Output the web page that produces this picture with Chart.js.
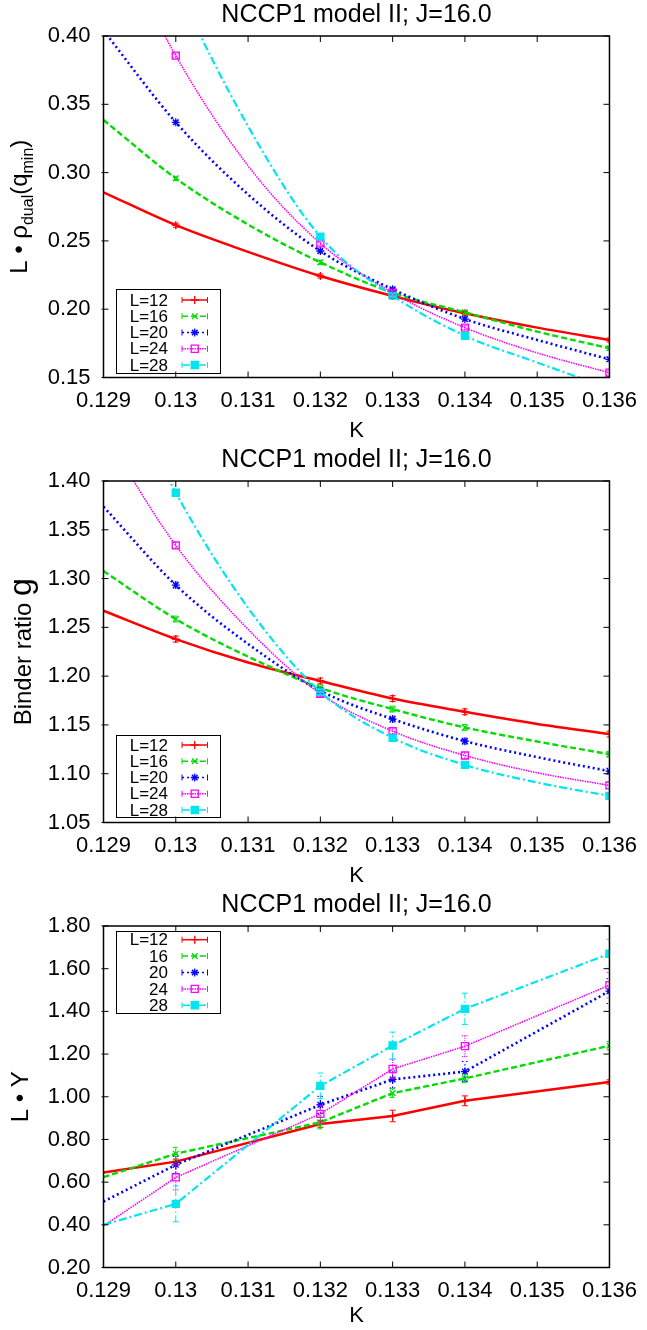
<!DOCTYPE html>
<html>
<head>
<meta charset="utf-8">
<script src="https://cdn.jsdelivr.net/npm/chart.js@4.4.0/dist/chart.umd.min.js"></script>
<style>
  html, body { margin: 0; padding: 0; background: #fff; overflow: hidden; }
  canvas { display: block; }
</style>
</head>
<body>
<canvas id="rhoChart" width="647" height="445"></canvas>
<canvas id="binderChart" width="647" height="445"></canvas>
<canvas id="yChart" width="647" height="440"></canvas>
<script>
// ---- data ----
const kFine = [0.129, 0.130, 0.131, 0.132, 0.133, 0.134, 0.135, 0.136];   // fitted curves (panels 1, 2)
const kMeasured = [0.130, 0.132, 0.133, 0.134, 0.136];                     // simulated points
const kY = [0.129, 0.130, 0.132, 0.133, 0.134, 0.136];                     // panel 3
const kTicks = [0.129, 0.130, 0.131, 0.132, 0.133, 0.134, 0.135, 0.136];
const rhoTicks = [0.15, 0.20, 0.25, 0.30, 0.35, 0.40];
const binderTicks = [1.05, 1.10, 1.15, 1.20, 1.25, 1.30, 1.35, 1.40];
const yTicks = [0.20, 0.40, 0.60, 0.80, 1.00, 1.20, 1.40, 1.60, 1.80];

const sizeLabels = ['L=12', 'L=16', 'L=20', 'L=24', 'L=28'];
const sizeLabelsShort = ['L=12', '16', '20', '24', '28'];

// L * rho_dual(q_min)
const rhoL12 = [0.2856, 0.2615, 0.2420, 0.2243, 0.2097, 0.1970, 0.1865, 0.1775];
const rhoL16 = [0.3385, 0.2958, 0.2620, 0.2343, 0.2121, 0.1977, 0.1836, 0.1714];
const rhoL20 = [0.4040, 0.3368, 0.2840, 0.2426, 0.2146, 0.1928, 0.1775, 0.1633];
const rhoL24 = [0.4900, 0.3856, 0.3050, 0.2482, 0.2119, 0.1865, 0.1680, 0.1535];
const rhoL28 = [0.5800, 0.4400, 0.3340, 0.2531, 0.2099, 0.1806, 0.1610, 0.1420];
const rhoErr = [null, 0.0015, null, 0.0015, 0.0015, 0.0015, null, 0.0015];

// Binder ratio g
const gL12 = [1.267, 1.238, 1.214, 1.195, 1.177, 1.1634, 1.151, 1.1406];
const gL16 = [1.3077, 1.2585, 1.220, 1.188, 1.1662, 1.1474, 1.133, 1.120];
const gL20 = [1.3737, 1.2933, 1.233, 1.185, 1.156, 1.1334, 1.117, 1.1026];
const gL24 = [1.450, 1.334, 1.248, 1.182, 1.1436, 1.1187, 1.101, 1.088];
const gL28 = [1.540, 1.388, 1.270, 1.184, 1.1368, 1.109, 1.091, 1.0773];
const gErr = [null, 0.003, null, 0.003, 0.003, 0.003, null, 0.003];

// L * Y
const yL12 = [0.645, 0.696, 0.872, 0.910, 0.981, 1.069];
const yL16 = [0.623, 0.733, 0.880, 1.017, 1.086, 1.239];
const yL20 = [0.509, 0.681, 0.962, 1.081, 1.118, 1.495];
const yL24 = [0.395, 0.622, 0.920, 1.130, 1.237, 1.523];
const yL28 = [0.400, 0.498, 1.051, 1.240, 1.412, 1.670];
const yErrL12 = [null, 0.012, 0.015, 0.027, 0.023, 0.010];
const yErrL16 = [null, 0.030, 0.030, 0.020, 0.020, 0.020];
const yErrL20 = [null, 0.040, 0.040, 0.040, 0.047, 0.058];
const yErrL24 = [null, 0.058, 0.040, 0.045, 0.049, 0.060];
const yErrL28 = [null, 0.084, 0.060, 0.063, 0.073, 0.068];

// ---- gnuplot-ish styling ----
const FONT = '"Liberation Sans", Arial, sans-serif';
Chart.defaults.font.family = FONT;
Chart.defaults.color = '#000';

const seriesStyle = [
  { color: '#ff0000', dash: [], width: 2.5, point: 'cross', fill: '#ff0000', radius: 4 },
  { color: '#00dd00', dash: [6, 3], width: 2.4, point: 'crossRot', fill: '#00dd00', radius: 4 },
  { color: '#0000ff', dash: [2, 3], width: 2.6, point: 'star', fill: '#0000ff', radius: 4 },
  { color: '#ff00ff', dash: [1.5, 1], width: 1.6, point: 'rect', fill: 'transparent', radius: 5 },
  { color: '#00e5ee', dash: [8, 3, 2, 3], width: 2.2, point: 'rect', fill: '#00e5ee', radius: 5 }
];

function makeDatasets(xs, series, errors, smooth) {
  return series.map((ys, i) => {
    const st = seriesStyle[i];
    return {
      label: sizeLabels[i],
      data: xs.map((x, j) => ({ x: x, y: ys[j] })),
      errors: errors[i],
      borderColor: st.color,
      backgroundColor: st.fill,
      borderWidth: st.width,
      borderDash: st.dash,
      pointStyle: st.point,
      pointRadius: ctx => (kMeasured.includes(xs[ctx.dataIndex]) ? st.radius : 0),
      pointBorderColor: st.color,
      pointBackgroundColor: st.fill,
      pointBorderWidth: 1.3,
      cubicInterpolationMode: smooth ? 'monotone' : 'default',
      tension: 0,
      order: -i
    };
  });
}

function drawMarker(ctx, st, x, y) {
  const r = st.radius;
  ctx.save();
  ctx.setLineDash([]);
  ctx.strokeStyle = st.color;
  ctx.lineWidth = 1.3;
  ctx.beginPath();
  if (st.point === 'cross' || st.point === 'star') {
    ctx.moveTo(x - r, y); ctx.lineTo(x + r, y);
    ctx.moveTo(x, y - r); ctx.lineTo(x, y + r);
  }
  if (st.point === 'crossRot' || st.point === 'star') {
    const d = r * Math.SQRT1_2;
    ctx.moveTo(x - d, y - d); ctx.lineTo(x + d, y + d);
    ctx.moveTo(x - d, y + d); ctx.lineTo(x + d, y - d);
  }
  if (st.point === 'rect') {
    const s = r * Math.SQRT1_2;
    if (st.fill !== 'transparent') {
      ctx.fillStyle = st.fill;
      ctx.fillRect(x - s, y - s, 2 * s, 2 * s);
    }
    ctx.rect(x - s, y - s, 2 * s, 2 * s);
  }
  ctx.stroke();
  ctx.restore();
}

// error bars, frame with inward ticks, key box and the y label with subscripts
function gnuplotLook(cfg) {
  return {
    id: 'gnuplotLook',
    afterDatasetsDraw(chart) {
      const { ctx, chartArea: a, scales: { x, y } } = chart;

      // error bars
      ctx.save();
      ctx.beginPath();
      ctx.rect(a.left, a.top, a.width, a.height);
      ctx.clip();
      chart.data.datasets.forEach((ds, i) => {
        const meta = chart.getDatasetMeta(i);
        ctx.strokeStyle = ds.borderColor;
        ctx.lineWidth = 1;
        ctx.setLineDash(ds.borderDash.length ? ds.borderDash.map(v => Math.max(1, v * 0.8)) : []);
        ds.errors.forEach((e, j) => {
          if (e == null) return;
          const px = meta.data[j].x;
          const v = ds.data[j].y;
          const y1 = y.getPixelForValue(v - e);
          const y2 = y.getPixelForValue(v + e);
          ctx.beginPath();
          ctx.moveTo(px, y1); ctx.lineTo(px, y2);
          ctx.moveTo(px - 3, y1); ctx.lineTo(px + 3, y1);
          ctx.moveTo(px - 3, y2); ctx.lineTo(px + 3, y2);
          ctx.stroke();
        });
      });
      ctx.restore();

      // frame and ticks
      ctx.save();
      ctx.setLineDash([]);
      ctx.strokeStyle = '#000';
      ctx.lineWidth = 1;
      ctx.beginPath();
      x.ticks.forEach(t => {
        const px = x.getPixelForValue(t.value);
        ctx.moveTo(px, a.bottom); ctx.lineTo(px, a.bottom - 6);
        ctx.moveTo(px, a.top); ctx.lineTo(px, a.top + 6);
      });
      y.ticks.forEach(t => {
        const py = y.getPixelForValue(t.value);
        ctx.moveTo(a.left - 2, py); ctx.lineTo(a.left + 5, py);
        ctx.moveTo(a.right, py); ctx.lineTo(a.right - 6, py);
      });
      ctx.stroke();
      ctx.lineWidth = 1.5;
      ctx.strokeRect(a.left, a.top, a.width, a.height);
      ctx.restore();

      // key
      const lg = cfg.legend;
      ctx.save();
      ctx.strokeStyle = '#000';
      ctx.lineWidth = 1;
      ctx.strokeRect(a.left + 13, a.top + lg.boxTop, 104, lg.boxHeight);
      ctx.font = '17px ' + FONT;
      ctx.textAlign = 'right';
      ctx.textBaseline = 'middle';
      ctx.fillStyle = '#000';
      lg.labels.forEach((txt, i) => {
        const ry = a.top + lg.firstRow + i * lg.rowStep;
        ctx.fillText(txt, a.left + 64.5, ry + 1);
        const st = seriesStyle[i];
        const x1 = a.left + 78.5, x2 = a.left + 104;
        ctx.strokeStyle = st.color;
        ctx.lineWidth = Math.min(st.width, 1.5);
        ctx.setLineDash(st.dash);
        ctx.beginPath();
        ctx.moveTo(x1, ry); ctx.lineTo(x2, ry);
        ctx.stroke();
        ctx.setLineDash([]);
        ctx.lineWidth = 1;
        ctx.beginPath();
        ctx.moveTo(x1, ry - 3); ctx.lineTo(x1, ry + 3);
        ctx.moveTo(x2, ry - 3); ctx.lineTo(x2, ry + 3);
        ctx.stroke();
        drawMarker(ctx, st, (x1 + x2) / 2, ry);
      });
      ctx.restore();

      // rotated y label
      ctx.save();
      ctx.fillStyle = '#000';
      ctx.textAlign = 'left';
      ctx.textBaseline = 'alphabetic';
      let total = 0;
      const widths = cfg.yTitle.parts.map(p => {
        ctx.font = p[1] + 'px ' + FONT;
        const w = ctx.measureText(p[0]).width;
        total += w;
        return w;
      });
      ctx.translate(cfg.yTitle.baseline, (a.top + a.bottom) / 2);
      ctx.rotate(-Math.PI / 2);
      let xx = -total / 2;
      cfg.yTitle.parts.forEach((p, i) => {
        ctx.font = p[1] + 'px ' + FONT;
        ctx.fillText(p[0], xx, p[2]);
        xx += widths[i];
      });
      ctx.restore();
    }
  };
}

function makeChart(id, height, datasets, yMin, yMax, yTickValues, cfg) {
  return new Chart(document.getElementById(id), {
    type: 'line',
    data: { datasets: datasets },
    options: {
      responsive: false,
      devicePixelRatio: 1,
      animation: false,
      events: [],
      layout: { padding: { left: 0, right: 34, top: 0, bottom: 0 } },
      elements: { line: { capBezierPoints: false } },
      plugins: {
        legend: { display: false },
        tooltip: { enabled: false },
        title: {
          display: true,
          text: 'NCCP1 model II; J=16.0',
          fullSize: false,
          color: '#000',
          font: { size: 25, weight: 'normal' },
          padding: { top: 0, bottom: 6 }
        }
      },
      scales: {
        x: {
          type: 'linear',
          min: 0.129,
          max: 0.136,
          afterBuildTicks: s => { s.ticks = kTicks.map(v => ({ value: v })); },
          afterFit: s => { s.height = height - 377.5; },
          ticks: {
            callback: v => String(+v.toFixed(3)),
            font: { size: 22 },
            color: '#000',
            padding: 10,
            maxRotation: 0,
            autoSkip: false
          },
          grid: { display: false, drawTicks: false },
          border: { display: false },
          title: {
            display: true,
            text: 'K',
            color: '#000',
            font: { size: 22 },
            padding: { top: 0, bottom: 1 }
          }
        },
        y: {
          type: 'linear',
          min: yMin,
          max: yMax,
          afterBuildTicks: s => { s.ticks = yTickValues.map(v => ({ value: v })); },
          afterFit: s => { s.width = 103.5; },
          ticks: {
            callback: v => v.toFixed(2),
            font: { size: 22 },
            color: '#000',
            padding: 13
          },
          grid: { display: false, drawTicks: false },
          border: { display: false }
        }
      }
    },
    plugins: [gnuplotLook(cfg)]
  });
}

makeChart('rhoChart', 445,
  makeDatasets(kFine, [rhoL12, rhoL16, rhoL20, rhoL24, rhoL28],
    [rhoErr, rhoErr, rhoErr, rhoErr, rhoErr], true),
  0.15, 0.40, rhoTicks,
  {
    legend: { labels: sizeLabels, boxTop: 253.5, boxHeight: 84, firstRow: 264, rowStep: 16.25 },
    yTitle: {
      baseline: 27,
      parts: [['L \u2022 \u03c1', 24, 0], ['dual', 16, 6], ['(q', 24, 0], ['min', 16, 6], [')', 24, 0]]
    }
  });

makeChart('binderChart', 445,
  makeDatasets(kFine, [gL12, gL16, gL20, gL24, gL28],
    [gErr, gErr, gErr, gErr, gErr], true),
  1.05, 1.40, binderTicks,
  {
    legend: { labels: sizeLabels, boxTop: 254.5, boxHeight: 82, firstRow: 264, rowStep: 16.25 },
    yTitle: { baseline: 31, parts: [['Binder ratio ', 24, 0], ['g', 32, 0]] }
  });

makeChart('yChart', 440,
  makeDatasets(kY, [yL12, yL16, yL20, yL24, yL28],
    [yErrL12, yErrL16, yErrL20, yErrL24, yErrL28], false),
  0.20, 1.80, yTicks,
  {
    legend: { labels: sizeLabelsShort, boxTop: 5.5, boxHeight: 82, firstRow: 13.7, rowStep: 16.4 },
    yTitle: { baseline: 28, parts: [['L \u2022 Y', 24, 0]] }
  });
</script>
</body>
</html>
